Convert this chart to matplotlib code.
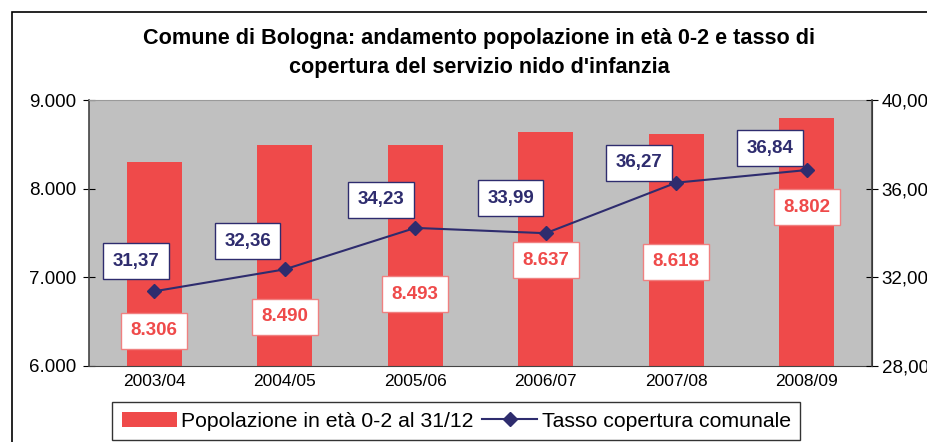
import matplotlib.pyplot as plt
from matplotlib.patches import Rectangle

# Data
anni = ["2003/04", "2004/05", "2005/06", "2006/07", "2007/08", "2008/09"]
popolazione = [8306, 8490, 8493, 8637, 8618, 8802]
tasso = [31.37, 32.36, 34.23, 33.99, 36.27, 36.84]

# label placement (bar labels in bar-axis units, line labels as pixel offsets)
bar_label_y = [6395, 6553, 6812, 7195, 7173, 7793]
line_label_off = [(-18, 30), (-37, 28), (-34, 28), (-35, 35), (-37, 20), (-37, 22)]

RED = "#EF4A4A"
NAVY = "#2E2C6E"
GRAY = "#C0C0C0"

plt.rcParams['font.family'] = ['Liberation Sans', 'DejaVu Sans']

fig = plt.figure(figsize=(9.27, 4.42), dpi=100)
fig.patch.set_facecolor("white")

# outer chart frame (cut off on the right and at the bottom)
fig.patches.append(Rectangle((12 / 927, -0.1), 1.0, 1 - 12 / 442 + 0.1,
                             transform=fig.transFigure, fill=False,
                             edgecolor="black", linewidth=1.2))

ax = fig.add_axes([89 / 927, 1 - 366 / 442, (872 - 89) / 927, (366 - 100) / 442])
ax.set_facecolor(GRAY)
x = list(range(len(anni)))

bars = ax.bar(x, popolazione, width=0.42, color=RED, zorder=2,
              label="Popolazione in età 0-2 al 31/12")
ax.set_xlim(-0.5, len(anni) - 0.5)
ax.set_ylim(6000, 9000)
ax.set_yticks([6000, 7000, 8000, 9000])
ax.set_yticklabels(["6.000", "7.000", "8.000", "9.000"])
ax.set_xticks(x)
ax.set_xticklabels(anni)
ax.tick_params(axis="x", length=0, labelsize=12.5, pad=6)
ax.tick_params(axis="y", direction="inout", length=8, labelsize=13.5, pad=5)
ax.spines["top"].set_color("#9A9A9A")
ax.spines["left"].set_color("#444444")
ax.spines["left"].set_linewidth(1.2)
ax.spines["bottom"].set_color("#444444")

for xi, v, ly in zip(x, popolazione, bar_label_y):
    txt = f"{v:,}".replace(",", ".")
    ax.annotate(txt, (xi, ly), ha="center", va="center", fontsize=13.5,
                fontweight="bold", color=RED, zorder=6,
                bbox=dict(boxstyle="square,pad=0.5", facecolor="white",
                          edgecolor="#F08080", linewidth=1))

ax2 = ax.twinx()
ax2.set_ylim(28, 40)
ax2.set_yticks([28, 32, 36, 40])
ax2.set_yticklabels(["28,00", "32,00", "36,00", "40,00"])
ax2.tick_params(axis="y", direction="inout", length=8, labelsize=13.5, pad=3)
ax2.spines["right"].set_color("#444444")
ax2.spines["right"].set_linewidth(1.2)
for s in ["left", "top", "bottom"]:
    ax2.spines[s].set_visible(False)

line, = ax2.plot(x, tasso, color=NAVY, linewidth=1.5, marker="D",
                 markersize=7, zorder=4, label="Tasso copertura comunale")

for xi, v, off in zip(x, tasso, line_label_off):
    ax2.annotate(f"{v:.2f}".replace(".", ","), (xi, v),
                 xytext=(off[0] * 0.72, off[1] * 0.72), textcoords="offset points",
                 ha="center", va="center", fontsize=13.5, fontweight="bold",
                 color=NAVY, zorder=6,
                 bbox=dict(boxstyle="square,pad=0.5", facecolor="white",
                           edgecolor=NAVY, linewidth=1))

fig.text(479 / 927, 1 - 53 / 442,
         "Comune di Bologna: andamento popolazione in età 0-2 e tasso di\n"
         "copertura del servizio nido d'infanzia",
         ha="center", va="center", fontsize=15.6, fontweight="bold",
         linespacing=1.45)

leg = fig.legend(handles=[bars, line], loc="upper left",
                 bbox_to_anchor=(112 / 927, 1 - 402 / 442), ncol=2,
                 frameon=True, fancybox=False, fontsize=15.3,
                 handlelength=2.6, handletextpad=0.2, columnspacing=0.4,
                 borderpad=0.45, borderaxespad=0)
leg.get_frame().set_edgecolor("black")
leg.get_frame().set_linewidth(1.0)

fig.savefig("out.png", dpi=100)
